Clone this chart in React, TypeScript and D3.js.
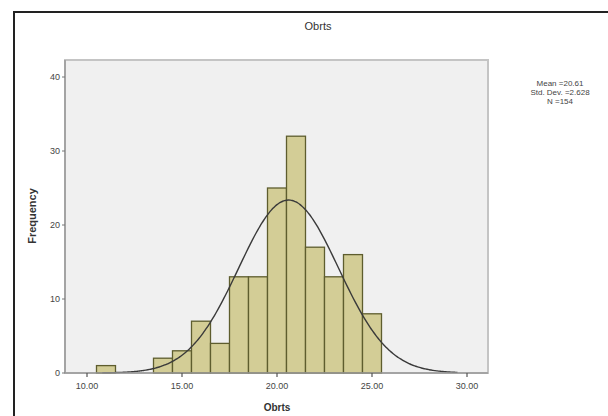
import React from "react";
import * as d3 from "d3";

const binCenters = [11, 14, 15, 16, 17, 18, 19, 20, 21, 22, 23, 24, 25];
const frequencies = [1, 2, 3, 7, 4, 13, 13, 25, 32, 17, 13, 16, 8];
const xTicks = [10, 15, 20, 25, 30];
const yTicks = [0, 10, 20, 30, 40];
const meanValue = 20.61;
const sdValue = 2.628;
const nValue = 154;
const binWidth = 1;
const titleText = "Obrts";
const legendLines = ["Mean =20.61", "Std. Dev. =2.628", "N =154"];

export default function App() {
  const W = 608, H = 416;
  const x = d3.scaleLinear().domain([10, 30]).range([87, 467]);
  const y = d3.scaleLinear().domain([0, 40]).range([373, 77]);
  const plotL = 65, plotR = 488, plotT = 60, plotB = 373;

  const curvePts: [number, number][] = d3.range(10.8, 29.6, 0.1).map((v) => [
    v,
    (nValue * binWidth) / (sdValue * Math.sqrt(2 * Math.PI)) *
      Math.exp(-0.5 * Math.pow((v - meanValue) / sdValue, 2)),
  ]);
  const line = d3
    .line<[number, number]>()
    .x((d) => x(d[0]))
    .y((d) => y(d[1]))
    .curve(d3.curveBasis);

  const font = "Arial, 'Liberation Sans', sans-serif";

  return (
    <svg
      width={W}
      height={H}
      style={{ position: "absolute", left: 0, top: 0, background: "#fff" }}
      fontFamily={font}
    >
      <line x1={13} y1={12} x2={W} y2={12} stroke="#222" strokeWidth={2} />
      <line x1={14} y1={11} x2={14} y2={H} stroke="#222" strokeWidth={2} />

      <text x={318} y={30} textAnchor="middle" fontSize={11} fill="#333">
        {titleText}
      </text>

      <rect
        x={plotL}
        y={plotT}
        width={plotR - plotL}
        height={plotB - plotT}
        fill="#f0f0f0"
        stroke="#c4c4c4"
        strokeWidth={2}
      />

      {binCenters.map((c, i) => (
        <rect
          key={i}
          x={x(c - binWidth / 2)}
          y={y(frequencies[i])}
          width={x(c + binWidth / 2) - x(c - binWidth / 2)}
          height={y(0) - y(frequencies[i])}
          fill="#d3cd96"
          stroke="#5e5d2e"
          strokeWidth={1.3}
        />
      ))}

      <path d={line(curvePts) || ""} fill="none" stroke="#3a3a3a" strokeWidth={1.4} />

      <line x1={plotL} y1={plotT} x2={plotL} y2={plotB} stroke="#9a9a9a" strokeWidth={1.5} />
      <line x1={plotL} y1={plotB} x2={plotR} y2={plotB} stroke="#9a9a9a" strokeWidth={1.5} />

      {yTicks.map((t) => (
        <g key={t}>
          <line x1={plotL - 3} x2={plotL} y1={y(t)} y2={y(t)} stroke="#777" />
          <text
            x={plotL - 5}
            y={y(t)}
            dy="0.35em"
            textAnchor="end"
            fontSize={9}
            fill="#444"
          >
            {t}
          </text>
        </g>
      ))}

      {xTicks.map((t) => (
        <g key={t}>
          <line x1={x(t)} x2={x(t)} y1={plotB} y2={plotB + 4} stroke="#555" strokeWidth={1.2} />
          <text x={x(t)} y={389} textAnchor="middle" fontSize={9} fill="#444">
            {t.toFixed(2)}
          </text>
        </g>
      ))}

      <text x={277} y={411} textAnchor="middle" fontSize={10} fontWeight="bold" fill="#333">
        {titleText}
      </text>
      <text
        transform={`translate(36,216) rotate(-90)`}
        textAnchor="middle"
        fontSize={11}
        fontWeight="bold"
        fill="#333"
      >
        Frequency
      </text>

      {legendLines.map((s, i) => (
        <text
          key={i}
          x={560}
          y={86 + i * 9}
          textAnchor="middle"
          fontSize={8}
          fill="#444"
        >
          {s}
        </text>
      ))}
    </svg>
  );
}
